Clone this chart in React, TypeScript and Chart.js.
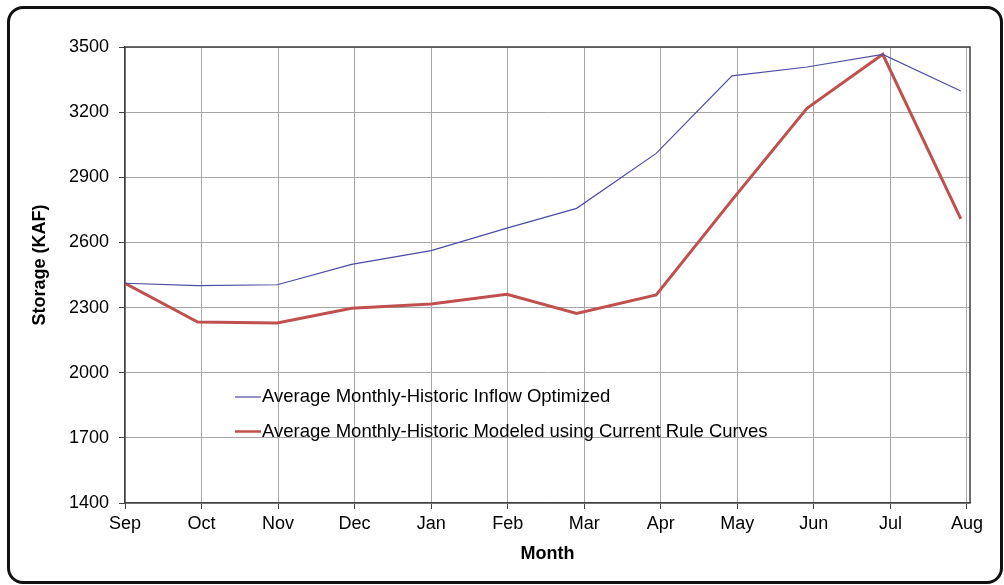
import { useEffect, useRef } from 'react';
import { Chart, registerables } from 'chart.js';

Chart.register(...registerables);

// ---- data ----
const months = ['Sep', 'Oct', 'Nov', 'Dec', 'Jan', 'Feb', 'Mar', 'Apr', 'May', 'Jun', 'Jul', 'Aug'];
// position of each monthly value along the month axis (0 = Sep tick)
const monthPos = [0, 0.95, 1.99, 2.96, 4.0, 4.99, 5.9, 6.94, 7.93, 8.91, 9.9, 10.92];
const optimized = [2412, 2401, 2405, 2499, 2562, 2666, 2757, 3010, 3367, 3408, 3466, 3297];
const modeled = [2412, 2233, 2229, 2297, 2316, 2361, 2273, 2358, 2795, 3218, 3466, 2708];
const yTicks = [1400, 1700, 2000, 2300, 2600, 2900, 3200, 3500];
const seriesLabels = [
  'Average Monthly-Historic Inflow Optimized',
  'Average Monthly-Historic Modeled using Current Rule Curves',
];
const xTitle = 'Month';
const yTitle = 'Storage (KAF)';

const FONT = "'Liberation Sans', Arial, sans-serif";

const frameAndLegend = {
  id: 'frameAndLegend',
  beforeDatasetsDraw(chart: any) {
    const { ctx, chartArea } = chart;
    ctx.save();
    ctx.strokeStyle = '#404040';
    ctx.lineWidth = 1.5;
    ctx.beginPath();
    ctx.moveTo(chartArea.left, chartArea.top);
    ctx.lineTo(chartArea.right, chartArea.top);
    ctx.lineTo(chartArea.right, chartArea.bottom);
    ctx.stroke();
    ctx.restore();
  },
  afterDatasetsDraw(chart: any) {
    const { ctx } = chart;
    ctx.save();
    chart.data.datasets.forEach((ds: any, i: number) => {
      const y = 397 + i * 34.5;
      ctx.strokeStyle = ds.borderColor;
      ctx.lineWidth = i === 0 ? 1.2 : 2.5;
      ctx.beginPath();
      ctx.moveTo(235, y);
      ctx.lineTo(261, y);
      ctx.stroke();
      ctx.fillStyle = '#000';
      ctx.font = `18.5px ${FONT}`;
      ctx.textBaseline = 'middle';
      ctx.textAlign = 'left';
      ctx.fillText(ds.label, 262, y);
    });
    // y-axis title
    ctx.translate(40, 265);
    ctx.rotate(-Math.PI / 2);
    ctx.font = `bold 18px ${FONT}`;
    ctx.textAlign = 'center';
    ctx.textBaseline = 'middle';
    ctx.fillStyle = '#000';
    ctx.fillText(yTitle, 0, 0);
    ctx.restore();
  },
};

export default function App() {
  const ref = useRef<HTMLCanvasElement | null>(null);

  useEffect(() => {
    if (!ref.current) return;
    const chart = new Chart(ref.current, {
      type: 'line',
      data: {
        datasets: [
          {
            label: seriesLabels[0],
            data: monthPos.map((x, i) => ({ x, y: optimized[i] })),
            borderColor: '#4c4ca4',
            borderWidth: 1.2,
            pointRadius: 0,
            tension: 0,
          },
          {
            label: seriesLabels[1],
            data: monthPos.map((x, i) => ({ x, y: modeled[i] })),
            borderColor: '#c0504d',
            borderWidth: 3,
            pointRadius: 0,
            tension: 0,
          },
        ],
      },
      options: {
        animation: false,
        responsive: false,
        layout: { padding: { top: 47, right: 34, left: 0, bottom: 0 } },
        plugins: { legend: { display: false }, tooltip: { enabled: false } },
        scales: {
          x: {
            type: 'linear',
            min: 0,
            max: 11.04,
            afterBuildTicks: (axis: any) => {
              axis.ticks = months.map((_, i) => ({ value: i }));
            },
            afterFit: (scale: any) => {
              scale.height = 82;
            },
            ticks: {
              autoSkip: false,
              maxRotation: 0,
              padding: 4,
              color: '#000',
              font: { family: FONT, size: 18 },
              callback: (v: any) => months[Math.round(Number(v))] ?? '',
            },
            grid: { color: '#a6a6a6', lineWidth: 1, tickLength: 6, tickColor: '#404040' },
            border: { color: '#404040', width: 1.5 },
            title: {
              display: true,
              text: xTitle,
              color: '#000',
              font: { family: FONT, size: 18, weight: 'bold' },
              padding: { top: 20, bottom: 20 },
            },
          },
          y: {
            type: 'linear',
            min: yTicks[0],
            max: yTicks[yTicks.length - 1],
            afterBuildTicks: (axis: any) => {
              axis.ticks = yTicks.map((v) => ({ value: v }));
            },
            afterFit: (scale: any) => {
              scale.width = 125;
            },
            ticks: {
              padding: 10,
              color: '#000',
              font: { family: FONT, size: 18 },
              callback: (v: any) => String(v),
            },
            grid: { color: '#a6a6a6', lineWidth: 1, tickLength: 6, tickColor: '#404040' },
            border: { color: '#404040', width: 1.5 },
            title: { display: false },
          },
        },
      },
      plugins: [frameAndLegend],
    });
    return () => chart.destroy();
  }, []);

  return (
    <div style={{ position: 'fixed', left: 0, top: 0, width: 1004, height: 585, background: '#fff' }}>
      <canvas ref={ref} width={1004} height={585} style={{ display: 'block' }} />
      <div
        style={{
          position: 'absolute',
          left: 7,
          top: 6,
          width: 996,
          height: 578,
          border: '3px solid #111',
          borderRadius: 16,
          boxSizing: 'border-box',
          pointerEvents: 'none',
        }}
      />
    </div>
  );
}
